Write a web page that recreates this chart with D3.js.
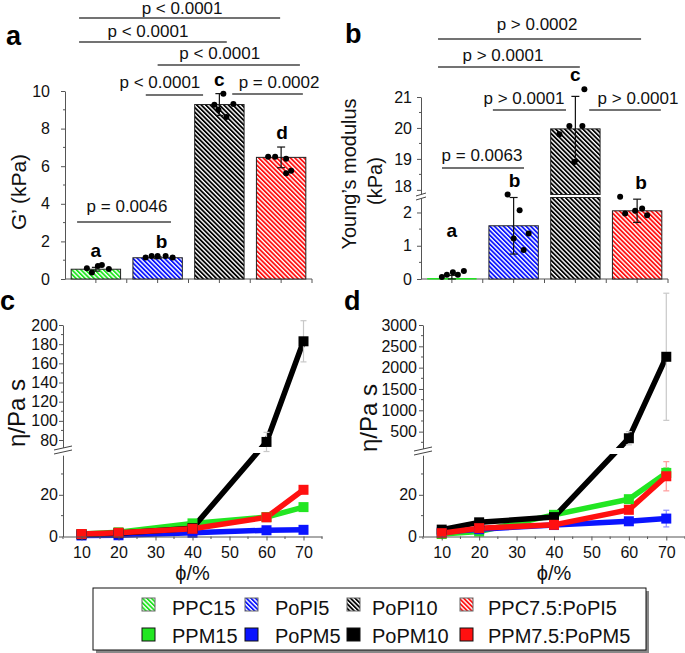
<!DOCTYPE html>
<html><head><meta charset="utf-8">
<script src="https://cdn.jsdelivr.net/npm/d3@7"></script>
<style>body{margin:0;background:#fff} svg text{font-family:"Liberation Sans",Arial,sans-serif}</style>
</head><body><script>
// ---------------- DATA ----------------
const barCats = ["PPC15","PoPI5","PoPI10","PPC7.5:PoPI5"];
const gPrime = [0.52, 1.13, 9.28, 6.47];
const gPrimeSD = [0.1, 0.05, 0.58, 0.55];
const gPrimeDots = [[0.57,0.34,0.69,0.74,0.53],[1.15,1.22,1.22,1.22,1.15],[9.27,9.0,9.86,8.62,9.31],[6.5,6.5,6.39,5.62,5.76]];
const gPrimeLetters = ["a","b","c","d"];
const gPrimeTicks = [0,2,4,6,8,10];
const gPrimeStats = [
  {i:0,j:1,p:"p = 0.0046"},{i:1,j:2,p:"p < 0.0001"},{i:2,j:3,p:"p = 0.0002"},
  {i:1,j:3,p:"p < 0.0001"},{i:0,j:2,p:"p < 0.0001"},{i:0,j:3,p:"p < 0.0001"}];

const youngs = [0.03, 1.6, 19.97, 2.05];
const youngsSD = [0.08, 0.85, 1.05, 0.35];
const youngsDots = [[0.06,0.13,0.2,0.13,0.24],[2.54,1.22,2.07,0.87,1.37],[19.8,20.06,18.9,20.06,21.25],[2.47,1.97,2.05,2.12,1.92]];
const youngsLetters = ["a","b","c","b"];
const youngsTicksLow = [0,1,2];
const youngsTicksHigh = [18,19,20,21];
const youngsStats = [
  {i:0,j:1,p:"p = 0.0063"},{i:1,j:2,p:"p > 0.0001"},{i:2,j:3,p:"p > 0.0001"},
  {i:0,j:2,p:"p > 0.0001"},{i:0,j:3,p:"p > 0.0002"}];

const phi = [10,20,40,60,70];
const phiTicks = [10,20,30,40,50,60,70];
const lineNames = ["PPM15","PoPM5","PoPM10","PPM7.5:PoPM5"];
// panel c viscosity
const cPPM15 = [1.2, 2.0, 6.3, 9.3, 14.1];
const cPoPM5 = [0.5, 0.6, 1.8, 3.0, 3.2];
const cPoPM10 = [1.0, 1.6, 4.0, 78, 183];
const cPPM75 = [1.2, 1.8, 3.7, 9.2, 22.4];
const cErrPPM15 = [0.2,0.2,0.4,0.6,1.0];
const cErrPoPM5 = [0.2,0.2,0.3,0.5,0.6];
const cErrPoPM10 = [0.2,0.3,0.6,10,21.5];
const cErrPPM75 = [0.2,0.2,0.4,0.6,1.2];
const cTicksLow = [0,20], cTicksHigh = [80,100,120,140,160,180,200];
// panel d viscosity
const dPPM15 = [1.2, 2.4, 10.4, 17.9, 30.5];
const dPoPM5 = [2.0, 3.5, 5.5, 7.3, 8.6];
const dPoPM10 = [3.3, 6.8, 9.3, 345, 2255];
const dPPM75 = [1.6, 4.0, 5.6, 12.8, 28.9];
const dErrPPM15 = [0.3,0.4,0.6,1.2,2.5];
const dErrPoPM5 = [0.2,0.4,0.5,1.0,4];
const dErrPoPM10 = [0.6,0.8,1.0,155,1490];
const dErrPPM75 = [0.3,0.5,0.6,1.2,7];
const dTicksLow = [0,20], dTicksHigh = [500,1000,1500,2000,2500,3000];

// ---------------- STYLE ----------------
const colors = ["#22e622","#0a14ff","#000000","#ff1010"];
const errColors = ["#8fe88f","#8f8fff","#c8c8c8","#ff9a9a"];
const FONT = '"Liberation Sans",Arial,sans-serif';
const fmt = d3.format("d");

const svg = d3.select("body").append("svg").attr("width",685).attr("height",653);
const defs = svg.append("defs");
colors.forEach((c,k)=>{
  const p = defs.append("pattern").attr("id","hatch"+k).attr("patternUnits","userSpaceOnUse")
    .attr("width",3.2).attr("height",3.2).attr("patternTransform","rotate(-45)");
  p.append("rect").attr("width",3.2).attr("height",3.2).attr("fill","#fff");
  p.append("rect").attr("width",1.8).attr("height",3.2).attr("fill",c);
});

function styleAxis(g, size){
  g.attr("font-family",FONT).attr("font-size",size||16);
  g.select(".domain").attr("stroke","#555");
  g.selectAll(".tick line").attr("stroke","#555");
  g.selectAll(".tick text").attr("fill","#111");
}
function minorTicks(g, scale, vals, x, len){
  g.selectAll(null).data(vals).enter().append("line")
    .attr("x1",x).attr("x2",x-len).attr("y1",d=>scale(d)).attr("y2",d=>scale(d))
    .attr("stroke","#555");
}
function panelLetter(t,x,y){
  svg.append("text").attr("x",x).attr("y",y).attr("font-size",27).attr("font-weight","bold").text(t);
}
function breakMark(ax, by, hw, dy){
  const g = svg.append("g");
  g.append("path").attr("d",`M${ax-hw},${by-1} L${ax+hw},${by-1-dy} L${ax+hw},${by+3-dy} L${ax-hw},${by+3} Z`).attr("fill","#fff");
  g.append("line").attr("x1",ax-hw).attr("y1",by-1).attr("x2",ax+hw).attr("y2",by-1-dy).attr("stroke","#444");
  g.append("line").attr("x1",ax-hw).attr("y1",by+3).attr("x2",ax+hw).attr("y2",by+3-dy).attr("stroke","#444");
}

// ---------------- BAR PANELS ----------------
function barPanel(o){
  const x = d3.scaleBand(barCats,[o.x0,o.x1]).paddingInner(0.2).paddingOuter(0.1);
  const bw = x.bandwidth();
  const g = svg.append("g");
  const broken = o.lowMax !== undefined;
  g.append("line").attr("x1",o.x0).attr("x2",o.x1).attr("y1",o.base).attr("y2",o.base).attr("stroke","#555");
  const tickXs = [];
  barCats.forEach((c,k)=>{ tickXs.push(x(c)+bw/2); tickXs.push(x(c)+bw+x.step()*0.1); });
  g.selectAll(null).data(tickXs).enter().append("line")
    .attr("x1",d=>d).attr("x2",d=>d).attr("y1",o.base).attr("y2",o.base+4).attr("stroke","#555");
  o.values.forEach((v,k)=>{
    const xs = x(barCats[k]);
    const fill = `url(#hatch${k})`;
    if (broken && v > o.lowMax){
      g.append("rect").attr("x",xs).attr("width",bw).attr("y",o.yLow(o.lowMax)).attr("height",o.base-o.yLow(o.lowMax))
        .attr("fill",fill).attr("stroke","#222").attr("stroke-width",1);
      g.append("rect").attr("x",xs).attr("width",bw).attr("y",o.yUp(v)).attr("height",o.yUp(o.upMin)-o.yUp(v))
        .attr("fill",fill).attr("stroke","#222").attr("stroke-width",1);
    } else {
      const top = o.y(v);
      const tall = (o.base - top) > 3;
      g.append("rect").attr("x",xs).attr("width",bw).attr("y",top).attr("height",Math.max(1.5,o.base-top))
        .attr("fill",tall? fill : colors[k]).attr("stroke","#222").attr("stroke-width",tall?1:0);
    }
  });
  o.values.forEach((v,k)=>{
    const cx = x(barCats[k])+bw/2, y1=o.y(v+o.sd[k]), y2=o.y(Math.max(0,v-o.sd[k]));
    g.append("line").attr("x1",cx).attr("x2",cx).attr("y1",y1).attr("y2",y2).attr("stroke","#111").attr("stroke-width",1.2);
    [y1,y2].forEach(yy=>g.append("line").attr("x1",cx-4).attr("x2",cx+4).attr("y1",yy).attr("y2",yy).attr("stroke","#111").attr("stroke-width",1.2));
  });
  o.dots.forEach((arr,k)=>{
    const cx = x(barCats[k])+bw/2;
    arr.forEach((d,m)=>g.append("circle").attr("cx",cx+o.jitter[k][m]).attr("cy",o.y(d)).attr("r",3).attr("fill","#000"));
  });
  o.letters.forEach((t,k)=>{
    const cx = x(barCats[k])+bw/2;
    const top = Math.min(o.y(o.values[k]+o.sd[k]), d3.min(o.dots[k].map(o.y)));
    const yb = o.letterOverride[k] != null ? o.letterOverride[k] : top-8;
    g.append("text").attr("x",cx+o.letterDx[k]).attr("y",yb).attr("text-anchor","middle")
      .attr("font-size",19).attr("font-weight","bold").text(t);
  });
  o.stats.forEach((s,k)=>{
    const L = o.statLayout[k];
    const xa = x(barCats[s.i]) + L[0]*bw, xb = x(barCats[s.j]) + L[1]*bw;
    g.append("line").attr("x1",xa).attr("x2",xb).attr("y1",L[2]).attr("y2",L[2]).attr("stroke","#444").attr("stroke-width",1.3);
    g.append("text").attr("x",(xa+xb)/2+L[3]).attr("y",L[4]).attr("text-anchor","middle").attr("font-size",17).attr("fill","#111").text(s.p);
  });
  return x;
}

// Panel a
const yA = d3.scaleLinear([0,10],[279,91]);
barPanel({x0:65,x1:312,base:279,y:yA,values:gPrime,sd:gPrimeSD,dots:gPrimeDots,
  jitter:[[-9,-4,2,6,13],[-12,-6,0,8,15],[-5,-1,4,7,14],[-13,-6,5,5,10]],
  letters:gPrimeLetters,letterOverride:[null,null,null,null],letterDx:[0,4,0,1],
  stats:gPrimeStats,
  statLayout:[[0.12,0.77,222,3,212],[0.26,0.17,95,-14.5,88],[0.76,0.94,94,11.5,88],[0.5,0.88,65,-9,59],[0.16,0.65,42,-5,37],[0.16,0.48,18,2.5,13.5]]});
{
  const ga = svg.append("g").attr("transform","translate(65,0)")
    .call(d3.axisLeft(yA).tickValues(gPrimeTicks).tickSize(4).tickPadding(11).tickSizeOuter(0));
  styleAxis(ga,16);
  minorTicks(svg.append("g"), yA, [1,3,5,7,9], 65, 2);
  svg.append("text").attr("transform","translate(19,192) rotate(-90)").attr("text-anchor","middle")
    .attr("dy","0.35em").attr("font-size",21).attr("fill","#111").text("G’ (kPa)");
  panelLetter("a",6,45);
}

// Panel b (broken axis)
const yBLow = d3.scaleLinear([0,2.45],[279,197.5]);
const yBUp = d3.scaleLinear([17.85,21],[194.5,97]);
const yB = v => v < 10 ? yBLow(v) : yBUp(v);
barPanel({x0:421,x1:668,base:279,y:yB,yLow:yBLow,yUp:yBUp,lowMax:2.45,upMin:17.85,
  values:youngs,sd:youngsSD,dots:youngsDots,
  jitter:[[-10,-5,1,6,12],[-6,0,6,10,15],[-16,-6,-1,7,9],[-17,-12,-2,5,10]],
  letters:youngsLetters,letterOverride:[237,null,null,null],letterDx:[0,1,0,4],
  stats:youngsStats,
  statLayout:[[0.3,0.71,168,-1,161],[0.08,0.31,110,-5.5,104],[0.78,0.98,110,13,104],[0.22,0.59,67,-6,61],[0.22,0.58,39,-2.5,30]]});
{
  const g1 = svg.append("g").attr("transform","translate(421,0)")
    .call(d3.axisLeft(yBLow).tickValues(youngsTicksLow).tickFormat(fmt).tickSize(4).tickPadding(5).tickSizeOuter(0));
  styleAxis(g1,16);
  const g2 = svg.append("g").attr("transform","translate(421,0)")
    .call(d3.axisLeft(yBUp).tickValues(youngsTicksHigh).tickFormat(fmt).tickSize(4).tickPadding(5).tickSizeOuter(0));
  styleAxis(g2,16);
  g2.selectAll(".tick").filter(d=>d===18).select("text").attr("dy","0.1em");
  minorTicks(svg.append("g"), yBLow, [0.5,1.5], 421, 2);
  minorTicks(svg.append("g"), yBUp, [18.5,19.5,20.5], 421, 2);
  breakMark(421,197,5,3);
  svg.append("text").attr("transform","translate(349,174) rotate(-90)").attr("text-anchor","middle")
    .attr("dy","0.35em").attr("font-size",20).attr("fill","#111").text("Young’s modulus");
  svg.append("text").attr("transform","translate(375,181) rotate(-90)").attr("text-anchor","middle")
    .attr("dy","0.35em").attr("font-size",20).attr("fill","#111").text("(kPa)");
  panelLetter("b",345,43);
}

// ---------------- LINE PANELS ----------------
function linePanel(o){
  const x = d3.scaleLinear([5,75],[o.x0,o.x1]);
  const y = v => v <= o.lowMax ? o.yLow(v) : o.yUp(v);
  const g = svg.append("g");
  const order = [0,1,2,3];
  const line = d3.line().x((d,i)=>x(phi[i])).y(d=>y(d));
  order.forEach(k=>{
    g.append("path").attr("d",line(o.series[k])).attr("fill","none").attr("stroke",colors[k])
      .attr("stroke-width",5.5).attr("stroke-linejoin","round");
  });
  g.append("rect").attr("x",o.x0+2).attr("width",o.x1-o.x0).attr("y",o.breakY-4).attr("height",6).attr("fill","#fff");
  order.forEach(k=>{
    o.series[k].forEach((v,i)=>{
      const cx = x(phi[i]), y1 = y(v+o.errs[k][i]), y2 = y(Math.max(0,v-o.errs[k][i]));
      g.append("line").attr("x1",cx).attr("x2",cx).attr("y1",y1).attr("y2",y2).attr("stroke",errColors[k]).attr("stroke-width",1.2);
      [y1,y2].forEach(yy=>g.append("line").attr("x1",cx-3).attr("x2",cx+3).attr("y1",yy).attr("y2",yy).attr("stroke",errColors[k]).attr("stroke-width",1.2));
    });
  });
  order.forEach(k=>{
    o.series[k].forEach((v,i)=>{
      g.append("rect").attr("x",x(phi[i])-5).attr("y",y(v)-5).attr("width",10).attr("height",10).attr("fill",colors[k]);
    });
  });
  const gx = svg.append("g").attr("transform",`translate(0,${o.base})`)
    .call(d3.axisBottom(x).tickValues(phiTicks).tickSize(4).tickPadding(6).tickSizeOuter(0).tickFormat(fmt));
  styleAxis(gx,16);
  const mx = [5,15,25,35,45,55,65,75];
  svg.append("g").selectAll(null).data(mx).enter().append("line")
    .attr("x1",d=>x(d)).attr("x2",d=>x(d)).attr("y1",o.base).attr("y2",o.base+2.5).attr("stroke","#555");
  const g1 = svg.append("g").attr("transform",`translate(${o.x0},0)`)
    .call(d3.axisLeft(o.yLow).tickValues(o.ticksLow).tickFormat(fmt).tickSize(4).tickPadding(o.pad).tickSizeOuter(0));
  styleAxis(g1,16);
  const g2 = svg.append("g").attr("transform",`translate(${o.x0},0)`)
    .call(d3.axisLeft(o.yUp).tickValues(o.ticksHigh).tickFormat(fmt).tickSize(4).tickPadding(o.pad).tickSizeOuter(0));
  styleAxis(g2,16);
  minorTicks(svg.append("g"), o.yLow, o.minorLow, o.x0, 2);
  minorTicks(svg.append("g"), o.yUp, o.minorHigh, o.x0, 2);
  breakMark(o.x0, o.breakY, 9, 4);
  svg.append("text").attr("transform",`translate(${o.labelX},${o.labelY}) rotate(-90)`).attr("text-anchor","middle")
    .attr("dy","0.35em").attr("font-size",24).attr("fill","#111").text("η/Pa s");
  svg.append("text").attr("x",(x(10)+x(70))/2).attr("y",580).attr("text-anchor","middle")
    .attr("font-size",20).attr("fill","#111").text("ϕ/%");
}

linePanel({x0:63,x1:322,base:536.5,lowMax:39,breakY:451,
  yLow:d3.scaleLinear([0,39],[536.5,455.2]), yUp:d3.scaleLinear([70,200],[449.6,325]),
  series:[cPPM15,cPoPM5,cPoPM10,cPPM75], errs:[cErrPPM15,cErrPoPM5,cErrPoPM10,cErrPPM75],
  ticksLow:cTicksLow, ticksHigh:cTicksHigh, minorLow:[10,30], minorHigh:[90,110,130,150,170,190],
  pad:1, labelX:17, labelY:413});
panelLetter("c",0,310);

linePanel({x0:423,x1:685,base:536.5,lowMax:39,breakY:452,
  yLow:d3.scaleLinear([0,39],[536.5,455.2]), yUp:d3.scaleLinear([100,3000],[448.7,325]),
  series:[dPPM15,dPoPM5,dPoPM10,dPPM75], errs:[dErrPPM15,dErrPoPM5,dErrPoPM10,dErrPPM75],
  ticksLow:dTicksLow, ticksHigh:dTicksHigh, minorLow:[10,30], minorHigh:[250,750,1250,1750,2250,2750],
  pad:2, labelX:369, labelY:418});
panelLetter("d",344,310);

// ---------------- LEGEND ----------------
{
  const lg = svg.append("g");
  lg.append("rect").attr("x",96).attr("y",591).attr("width",553).attr("height",62).attr("fill","#888");
  lg.append("rect").attr("x",93).attr("y",588).attr("width",553).attr("height",62).attr("fill","#fff").attr("stroke","#111");
  const swX = [142,245,347,460], txX = [172,275,372,488];
  [barCats, lineNames].forEach((names,row)=>{
    names.forEach((n,k)=>{
      lg.append("rect").attr("x",swX[k]).attr("y",row? 628:598).attr("width",13).attr("height",13)
        .attr("fill", row? colors[k] : `url(#hatch${k})`).attr("stroke", row? "#111":"#666").attr("stroke-width",1);
      lg.append("text").attr("x",txX[k]).attr("y",row? 643:615).attr("font-size",20).attr("fill","#111").text(n);
    });
  });
}
</script></body></html>
